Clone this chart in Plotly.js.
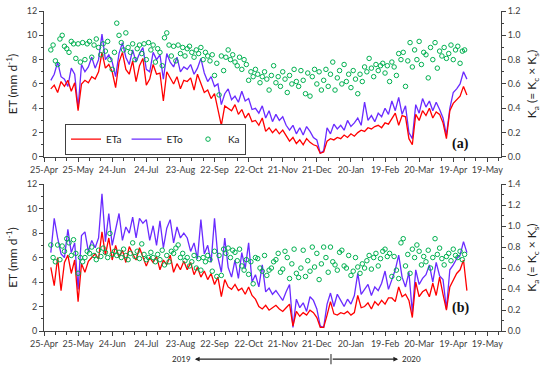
<!DOCTYPE html>
<html>
<head>
<meta charset="utf-8">
<script src="https://cdn.plot.ly/plotly-3.0.1.min.js"></script>
<style>
  body { margin: 0; background: #fff; }
  #chart { width: 550px; height: 370px; }
</style>
</head>
<body>
<div id="chart"></div>
<script>
// ET lines: every 3 days from 1 May 2019; Ka: every 2 days from 1 May 2019
const etaA = [
  5.6, 5.9, 5.3, 6.2, 5.8, 6.3, 5.4, 6.1, 3.8, 6.0,
  6.3, 6.1, 6.6, 6.4, 7.0, 8.6, 7.3, 7.6, 7.0, 5.7,
  7.8, 8.6, 7.2, 6.8, 7.9, 6.2, 7.5, 8.1, 5.9, 6.4,
  7.6, 6.8, 6.9, 4.6, 7.0, 6.5, 6.0, 6.6, 5.6, 6.3,
  6.2, 6.5, 5.5, 6.8, 6.0, 5.3, 5.5, 4.8, 5.2, 4.0,
  2.6, 4.2, 4.0, 3.8, 4.3, 3.5, 3.9, 3.2, 3.6, 2.9,
  3.0, 2.6, 3.2, 2.1, 2.4, 2.0, 2.3, 1.9, 2.2, 1.7,
  1.3, 1.6, 1.1, 1.4, 1.0, 1.5, 1.2, 1.0, 0.9, 0.3,
  0.4, 1.3, 1.5, 1.4, 1.6, 1.5, 1.8, 1.6, 1.9, 1.7,
  2.0, 2.2, 2.1, 2.4, 2.3, 2.5, 2.6, 2.4, 2.8, 2.7,
  3.1, 3.6, 2.6, 3.4, 3.3, 1.5, 1.0, 3.5, 3.0, 3.8,
  3.4, 4.0, 3.2, 3.7, 3.5, 2.8, 1.5, 3.8, 4.4, 4.7,
  5.0, 5.8, 5.1
];
const etoA = [
  6.3, 6.8, 7.8, 6.6, 6.4, 5.8, 7.3, 6.8, 4.0, 7.6,
  7.0, 7.4, 8.2, 7.3, 8.0, 10.1, 8.0, 8.4, 7.8, 6.6,
  8.5, 9.4, 8.2, 7.6, 8.8, 7.8, 8.5, 9.0, 7.2, 7.0,
  8.6, 8.0, 8.4, 6.4, 8.5, 7.8, 7.4, 8.2, 7.0, 7.4,
  7.2, 7.6, 6.8, 7.3, 8.1, 6.9, 6.2, 6.6, 5.8, 6.0,
  4.3, 5.2, 5.6, 4.7, 5.0, 4.5, 5.4, 4.6, 4.8, 3.9,
  4.0, 3.6, 4.2, 3.2, 3.8, 2.9, 3.5, 3.0, 3.3, 2.6,
  2.2, 2.6, 1.9, 2.4, 1.8, 2.5, 2.1, 1.6, 1.4, 0.3,
  0.5, 2.4, 1.9, 2.7, 2.3, 2.6, 2.2, 3.0, 2.5, 2.8,
  3.2, 2.6, 4.5, 3.0, 3.4, 2.9, 3.6, 3.3, 4.0, 3.5,
  4.6, 3.8, 4.9, 3.5, 4.2, 2.0, 1.5, 4.3, 3.6, 4.8,
  4.1, 4.6, 3.8, 4.5, 3.9, 3.2, 1.8, 4.0, 5.3, 5.6,
  6.0, 7.0, 6.4
];
const kaA = [
  0.88, 0.92, 0.79, 0.76, 0.97, 1.00, 0.91, 0.89, 0.86, 0.95, 0.93, 0.81, 0.93, 0.78, 0.94,
  0.80, 0.93, 0.95, 0.82, 0.92, 0.97, 0.90, 0.84, 0.93, 0.87, 0.95, 0.80, 0.72, 0.86, 1.10,
  1.00, 0.94, 0.88, 1.02, 0.90, 0.86, 0.93, 0.80, 0.89, 0.92, 0.85, 0.93, 0.80, 0.94, 0.88,
  0.92, 0.78, 0.89, 0.86, 0.75, 0.98, 1.02, 0.92, 0.83, 0.91, 0.79, 0.92, 0.85, 0.90, 0.83,
  0.89, 0.91, 0.86, 0.82, 0.88, 0.85, 0.90, 0.80, 0.86, 0.83, 0.79, 0.84, 0.67, 0.77, 0.51,
  0.83, 0.71, 0.82, 0.88, 0.80, 0.84, 0.78, 0.75, 0.82, 0.72, 0.80, 0.76, 0.63, 0.70, 0.66,
  0.72, 0.68, 0.61, 0.66, 0.70, 0.64, 0.55, 0.67, 0.75, 0.61, 0.66, 0.58, 0.70, 0.64, 0.53,
  0.67, 0.60, 0.72, 0.62, 0.58, 0.71, 0.63, 0.52, 0.69, 0.50, 0.66, 0.72, 0.60, 0.70, 0.55,
  0.63, 0.72, 0.58, 0.68, 0.78, 0.55, 0.65, 0.71, 0.60, 0.76, 0.62, 0.68, 0.57, 0.71, 0.64,
  0.52, 0.68, 0.62, 0.74, 0.70, 0.81, 0.73, 0.66, 0.76, 0.71, 0.75, 0.77, 0.69, 0.75, 0.62,
  0.78, 0.74, 0.67, 0.85, 0.80, 0.86, 0.58, 0.79, 0.94, 0.74, 0.88, 0.80, 0.95, 0.76, 0.86,
  0.84, 0.65, 0.90, 0.80, 0.94, 0.73, 0.87, 0.83, 0.90, 0.81, 0.85, 0.92, 0.80, 0.88, 0.91,
  0.77, 0.87, 0.88
];
const etaB = [
  5.2, 3.7, 6.0, 3.3, 5.6, 6.2, 4.7, 5.8, 2.4, 5.5,
  4.8, 5.7, 6.0, 6.3, 5.9, 8.1, 6.2, 7.6, 5.8, 7.0,
  6.0, 6.6, 5.6, 6.9, 6.3, 5.8, 6.8, 6.1, 5.3, 6.0,
  5.6, 6.1, 5.0, 5.8, 5.4, 6.2, 4.8, 5.5, 5.0, 5.7,
  5.0, 5.6, 4.6, 5.2, 4.4, 4.9, 4.2, 4.7, 3.8, 4.4,
  2.8, 4.2, 3.6, 3.4, 3.8, 3.3, 3.5, 3.0, 3.6, 2.9,
  2.6, 2.0, 1.8, 2.1, 1.7, 1.9, 2.1, 1.8, 1.6, 1.9,
  2.2, 0.4, 1.6, 1.2, 1.5, 1.3, 1.7, 1.5, 1.1, 0.3,
  0.3, 1.3, 2.4, 1.4, 1.3, 1.5, 1.4, 1.6, 1.3, 1.5,
  2.9, 1.9, 2.0, 2.3, 1.8, 2.4, 2.1, 2.5, 2.2, 2.7,
  2.7, 2.4, 3.6, 2.8, 3.0, 2.5, 1.1, 4.0, 2.8, 3.2,
  3.4, 2.8, 3.9, 2.9, 4.4, 3.0, 1.7, 3.6, 4.2, 4.7,
  5.0, 5.8, 3.3
];
const etoB = [
  6.4, 9.2, 7.6, 6.3, 6.0, 8.3, 6.4, 7.2, 3.4, 7.8,
  8.1, 6.5, 7.4, 6.8, 7.6, 11.2, 7.3, 9.6, 7.0, 8.4,
  9.6, 7.4, 8.5, 8.0, 9.3, 7.6, 9.2, 8.8, 9.1, 7.4,
  8.6, 7.0, 9.0, 6.8, 8.4, 9.1, 7.2, 8.5, 7.6, 8.0,
  7.6, 6.5, 7.2, 5.9, 9.1, 6.3, 7.0, 5.6, 9.2, 6.0,
  4.8, 7.6, 5.2, 4.4, 5.8, 4.3, 6.4, 5.1, 7.2, 4.0,
  4.6, 3.6, 5.4, 3.2, 3.5, 3.0, 3.3, 2.9, 2.5, 3.2,
  3.8, 0.3, 2.6, 1.9, 2.3, 1.6, 2.8, 2.5, 1.8, 0.4,
  0.3, 2.2, 3.1, 2.0, 3.0, 2.5, 2.0, 2.6, 2.2, 2.9,
  4.7, 3.0, 3.4, 3.8, 2.9, 3.6, 3.3, 3.9, 4.9, 3.4,
  4.2, 5.0, 6.2, 4.4, 3.6, 4.8, 1.5, 5.0, 3.8, 4.3,
  4.6, 5.4, 4.0, 5.6, 4.5, 4.2, 1.8, 5.0, 5.4, 5.9,
  6.2, 7.3, 6.4
];
const kaB = [
  0.82, 0.70, 0.66, 0.82, 0.68, 0.81, 0.76, 0.88, 0.84, 0.72, 0.87, 0.74, 0.55, 0.70, 0.66,
  0.70, 0.76, 0.74, 0.80, 0.72, 0.68, 0.77, 0.71, 0.79, 0.75, 0.70, 0.93, 0.73, 0.76, 0.72,
  0.75, 0.70, 0.78, 0.72, 0.68, 0.74, 0.84, 0.71, 0.76, 0.69, 0.83, 0.73, 0.68, 0.70, 0.75,
  0.70, 0.66, 0.73, 0.68, 0.77, 0.63, 0.72, 0.66, 0.76, 0.74, 0.79, 0.82, 0.70, 0.74, 0.67,
  0.70, 0.62, 0.66, 0.72, 0.60, 0.69, 0.58, 0.70, 0.66, 0.72, 0.68, 0.57, 0.76, 0.52, 0.72,
  0.53, 0.78, 0.74, 0.79, 0.70, 0.77, 0.75, 0.67, 0.78, 0.62, 0.58, 0.68, 0.54, 0.66, 0.45,
  0.70, 0.69, 0.60, 0.57, 0.72, 0.53, 0.58, 0.60, 0.66, 0.68, 0.74, 0.56, 0.59, 0.76, 0.70,
  0.50, 0.64, 0.78, 0.55, 0.51, 0.60, 0.77, 0.52, 0.67, 0.57, 0.80, 0.61, 0.74, 0.49, 0.64,
  0.80, 0.70, 0.56, 0.80, 0.66, 0.63, 0.58, 0.75, 0.77, 0.62, 0.60, 0.72, 0.53, 0.57, 0.70,
  0.61, 0.55, 0.64, 0.60, 0.67, 0.72, 0.59, 0.70, 0.74, 0.62, 0.69, 0.76, 0.78, 0.71, 0.74,
  0.52, 0.71, 0.58, 0.50, 0.84, 0.88, 0.62, 0.73, 0.55, 0.78, 0.70, 0.82, 0.76, 0.63, 0.71,
  0.66, 0.77, 0.60, 0.70, 0.88, 0.73, 0.79, 0.69, 0.63, 0.71, 0.74, 0.67, 0.78, 0.72, 0.70,
  0.76, 0.68, 0.73
];

function dateSeries(start, stepDays, n) {
  const out = [];
  const t0 = Date.UTC(start[0], start[1] - 1, start[2]);
  for (let i = 0; i < n; i++) {
    out.push(new Date(t0 + i * stepDays * 86400000).toISOString().slice(0, 10));
  }
  return out;
}
const lineDates = dateSeries([2019, 5, 1], 3, etaA.length);
const kaDates = dateSeries([2019, 5, 1], 2, kaA.length);

const RED = '#ff0000', PURPLE = '#6a2bff', GREEN = '#00b050';
const AX = '#404040';
const DAY = 86400000;

function traces(eta, eto, ka, xa, yl, yr, showLeg) {
  return [
    { x: lineDates, y: eto, xaxis: xa, yaxis: yl, name: 'ETo', type: 'scatter', mode: 'lines',
      line: { color: PURPLE, width: 1.3 }, showlegend: showLeg, legendrank: 2 },
    { x: lineDates, y: eta, xaxis: xa, yaxis: yl, name: 'ETa', type: 'scatter', mode: 'lines',
      line: { color: RED, width: 1.3 }, showlegend: showLeg, legendrank: 1 },
    { x: kaDates, y: ka, xaxis: xa, yaxis: yr, name: 'Ka', type: 'scatter', mode: 'markers',
      marker: { symbol: 'circle-open', size: 4.5, color: GREEN, line: { width: 1 } },
      showlegend: showLeg, legendrank: 3 }
  ];
}

const data = [].concat(
  traces(etaA, etoA, kaA, 'x', 'y', 'y2', true),
  traces(etaB, etoB, kaB, 'x2', 'y3', 'y4', false)
);

const tickFont = { family: 'Lato, "Open Sans", sans-serif', size: 9, color: '#404040' };

function xAxis(anchor) {
  return {
    anchor: anchor, type: 'date', range: ['2019-04-25', '2020-05-31'],
    tickmode: 'linear', tick0: '2019-04-25', dtick: 30 * DAY, tickformat: '%d-%b',
    tickangle: 0, automargin: false,
    ticks: 'outside', ticklen: 4, tickcolor: AX,
    minor: { tickmode: 'linear', tick0: '2019-04-25', dtick: 10 * DAY, ticks: 'outside', ticklen: 3, tickcolor: AX },
    showline: true, linecolor: AX, linewidth: 1, showgrid: false, zeroline: false,
    tickfont: tickFont
  };
}
function yLeft(domain, anchor) {
  return {
    domain: domain, anchor: anchor, range: [0, 12], dtick: 2,
    ticks: 'outside', ticklen: 4, tickcolor: AX,
    minor: { dtick: 1, ticks: 'outside', ticklen: 2, tickcolor: AX },
    showline: true, linecolor: AX, showgrid: false, zeroline: false, tickfont: tickFont,
    title: { text: 'ET (mm d<sup>-1</sup>)', font: { family: 'Lato, sans-serif', size: 12, color: '#222' }, standoff: 6 }
  };
}
function yRight(over, anchor, max) {
  return {
    overlaying: over, anchor: anchor, side: 'right', range: [0, max], dtick: 0.2, tickformat: '.1f',
    ticks: 'outside', ticklen: 4, tickcolor: AX,
    minor: { dtick: 0.1, ticks: 'outside', ticklen: 2, tickcolor: AX },
    showline: true, linecolor: AX, showgrid: false, zeroline: false, tickfont: tickFont,
    title: { text: 'K<sub>a</sub> (= K<sub>c</sub> × K<sub>s</sub>)', font: { family: 'Lato, sans-serif', size: 12, color: '#222' }, standoff: 8 }
  };
}

const serif = { family: '"Liberation Serif", "Times New Roman", serif', size: 14, color: '#111' };
const small = { family: 'Lato, sans-serif', size: 8, color: '#222' };
const yArrow = -0.088;

const layout = {
  width: 550, height: 370,
  margin: { l: 44, r: 49, t: 11, b: 39 },
  paper_bgcolor: '#fff', plot_bgcolor: '#fff',
  xaxis: xAxis('y'),
  xaxis2: xAxis('y3'),
  yaxis: yLeft([0.544, 1], 'x'),
  yaxis2: yRight('y', 'x', 1.2),
  yaxis3: yLeft([0, 0.459], 'x2'),
  yaxis4: yRight('y3', 'x2', 1.4),
  showlegend: true,
  legend: {
    orientation: 'h', x: 0.046, y: 0.648, xanchor: 'left', yanchor: 'top',
    bordercolor: AX, borderwidth: 1, bgcolor: '#fff',
    font: { family: 'Lato, sans-serif', size: 10, color: '#222' },
    itemwidth: 30, traceorder: 'normal'
  },
  annotations: [
    { xref: 'paper', yref: 'paper', x: 0.935, y: 0.585, text: '<b>(a)</b>', showarrow: false, font: serif },
    { xref: 'paper', yref: 'paper', x: 0.935, y: 0.040, text: '<b>(b)</b>', showarrow: false, font: serif },
    { xref: 'paper', yref: 'paper', x: 0.326, y: yArrow, xanchor: 'right', yanchor: 'middle', text: '2019', showarrow: false, font: small },
    { xref: 'paper', yref: 'paper', x: 0.779, y: yArrow, xanchor: 'left', yanchor: 'middle', text: '2020', showarrow: false, font: small },
    { xref: 'paper', yref: 'paper', x: 0.330, y: yArrow, ax: 136, ay: 0, text: '', showarrow: true,
      arrowhead: 2, arrowsize: 0.8, arrowwidth: 1.2, arrowcolor: '#222' },
    { xref: 'paper', yref: 'paper', x: 0.775, y: yArrow, ax: -67, ay: 0, text: '', showarrow: true,
      arrowhead: 2, arrowsize: 0.8, arrowwidth: 1.2, arrowcolor: '#222' }
  ],
  shapes: [
    { type: 'line', xref: 'paper', yref: 'paper', x0: 0.628, x1: 0.628, y0: yArrow + 0.016, y1: yArrow - 0.016,
      line: { color: '#222', width: 1 } }
  ]
};

Plotly.newPlot('chart', data, layout, { displayModeBar: false, staticPlot: true });
</script>
</body>
</html>
